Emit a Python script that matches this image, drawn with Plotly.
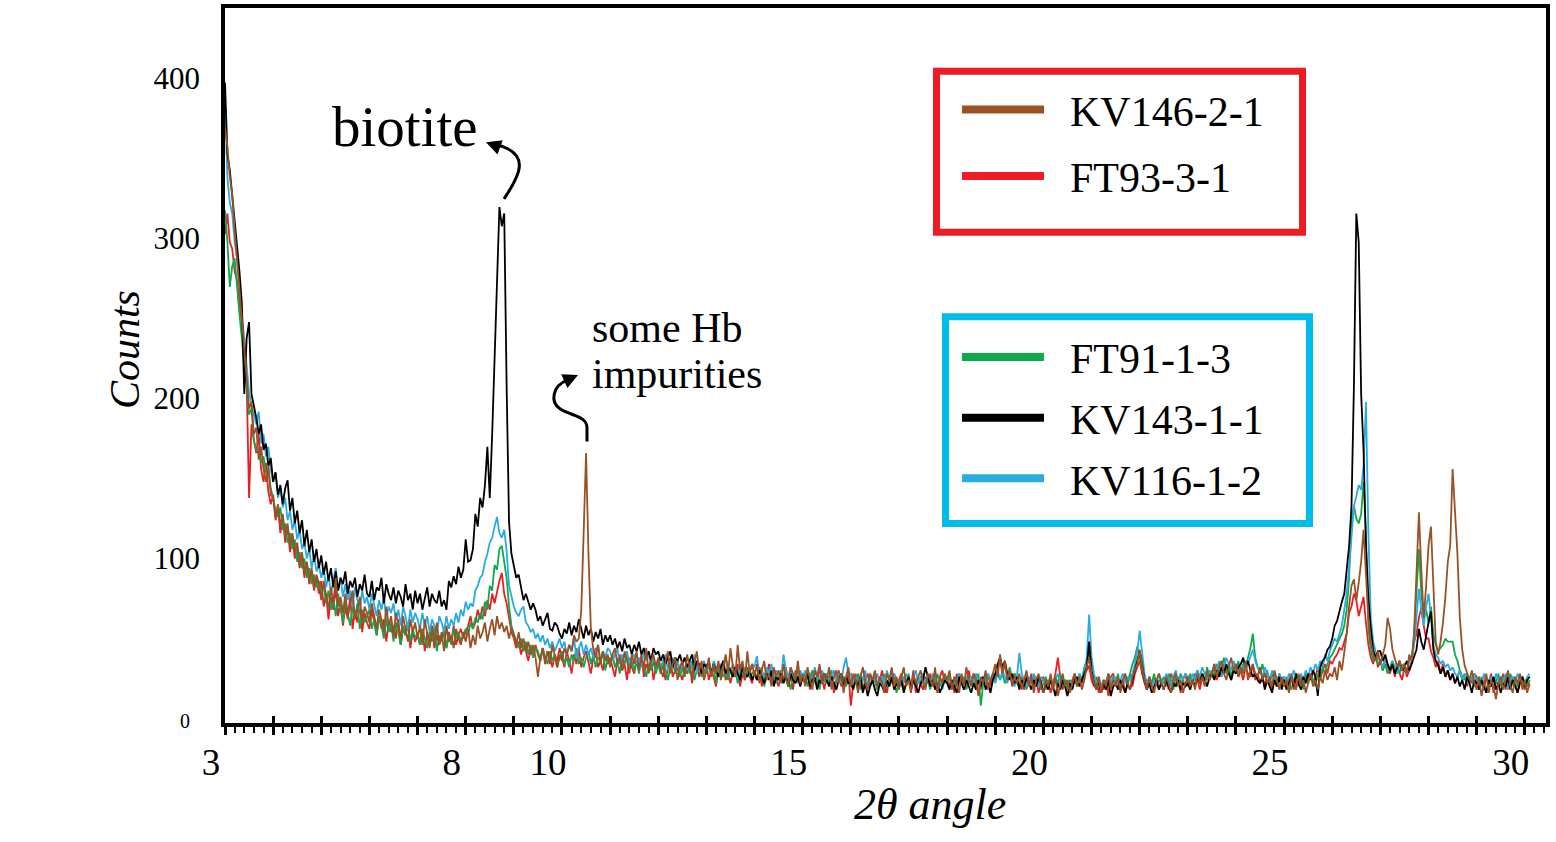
import plotly.graph_objects as go

# ---------------- data (2θ step 0.05° from 3.00° to 30.10°) ----------------
angle_start = 3.0
angle_step = 0.05

kv146_2_1 = [  # brown, one row = 0.5°
    372, 360, 341, 330, 308, 290, 268, 250, 236, 214,
    196, 200, 180, 184, 164, 172, 158, 150, 160, 142,
    140, 128, 136, 122, 130, 116, 124, 110, 118, 106,
    112, 98, 106, 94, 100, 88, 96, 84, 92, 86,
    76, 88, 80, 70, 84, 74, 90, 72, 78, 68,
    80, 66, 74, 82, 64, 70, 78, 62, 72, 68,
    62, 74, 66, 58, 70, 64, 56, 72, 60, 66,
    54, 68, 60, 52, 66, 58, 50, 64, 56, 62,
    52, 60, 48, 64, 54, 46, 58, 50, 62, 48,
    56, 44, 60, 50, 54, 46, 58, 52, 48, 56,
    50, 58, 46, 54, 48, 60, 52, 56, 62, 50,
    58, 64, 54, 66, 58, 62, 56, 60, 52, 58,
    54, 48, 56, 46, 52, 44, 50, 42, 48, 40,
    28, 40, 46, 38, 44, 36, 48, 40, 34, 42,
    38, 46, 42, 48, 44, 54, 50, 52, 70, 118,
    168, 105, 58, 45, 40, 48, 36, 44, 38, 42,
    34, 42, 46, 36, 40, 32, 44, 38, 30, 42,
    36, 44, 32, 40, 34, 46, 30, 38, 42, 34,
    40, 32, 28, 38, 44, 30, 36, 40, 26, 34,
    38, 30, 42, 34, 28, 36, 44, 32, 38, 26,
    32, 40, 28, 36, 30, 38, 26, 34, 42, 30,
    46, 34, 28, 48, 32, 38, 26, 44, 30, 36,
    28, 36, 24, 32, 38, 26, 30, 22, 34, 28,
    32, 24, 36, 28, 22, 34, 30, 26, 38, 24,
    30, 22, 34, 26, 20, 32, 28, 36, 24, 30,
    26, 34, 20, 28, 32, 24, 30, 18, 28, 34,
    22, 30, 26, 18, 28, 34, 24, 20, 30, 26,
    32, 22, 28, 24, 18, 30, 26, 34, 22, 28,
    20, 28, 34, 22, 26, 18, 30, 24, 28, 32,
    24, 20, 30, 26, 22, 34, 18, 28, 24, 30,
    26, 32, 20, 28, 24, 18, 30, 22, 34, 26,
    22, 30, 26, 16, 28, 24, 32, 20, 26, 30,
    36, 28, 42, 30, 38, 26, 32, 22, 28, 24,
    30, 20, 26, 32, 22, 28, 18, 26, 30, 22,
    18, 26, 22, 30, 20, 28, 16, 24, 30, 22,
    26, 18, 24, 30, 22, 28, 20, 26, 34, 40,
    30, 24, 20, 28, 18, 26, 22, 30, 20, 26,
    22, 28, 18, 26, 30, 24, 20, 28, 32, 36,
    45, 34, 26, 20, 28, 22, 18, 26, 30, 24,
    20, 28, 24, 18, 26, 30, 22, 26, 18, 24,
    28, 22, 26, 20, 30, 24, 28, 22, 32, 26,
    30, 36, 28, 34, 38, 30, 26, 34, 40, 32,
    36, 28, 34, 30, 38, 26, 32, 36, 30, 28,
    34, 26, 30, 24, 28, 22, 32, 26, 20, 28,
    22, 26, 18, 28, 24, 20, 30, 22, 26, 18,
    24, 30, 22, 26, 20, 28, 24, 32, 26, 30,
    28, 34, 26, 38, 32, 42, 55, 72, 85, 89,
    76, 87, 100, 120, 95, 65, 50, 42, 38, 44,
    36, 42, 48, 65, 58, 45, 40, 34, 38, 32,
    36, 30, 42, 38, 55, 90, 131, 95, 65, 85,
    110, 122, 80, 50, 42, 50, 62, 78, 100, 110,
    158, 135, 105, 65, 45, 35, 30, 26, 32, 24,
    20, 28, 16, 24, 30, 18, 26, 22, 14, 24,
    28, 20, 26, 32, 22, 18, 28, 24, 30, 20,
    26, 18, 24,
]

ft93_3_1 = [  # red
    305, 318, 300, 296, 282, 276, 262, 250, 228, 212,
    140, 186, 176, 168, 180, 158, 150, 162, 144, 136,
    142, 126, 134, 118, 128, 112, 122, 106, 116, 102,
    110, 96, 104, 90, 100, 86, 94, 82, 90, 80,
    88, 72, 80, 64, 78, 70, 84, 66, 74, 60,
    72, 64, 78, 58, 70, 62, 74, 56, 68, 62,
    58, 70, 62, 54, 66, 58, 64, 50, 62, 56,
    60, 52, 64, 48, 58, 54, 62, 46, 56, 50,
    54, 48, 58, 44, 56, 50, 60, 46, 54, 48,
    52, 58, 46, 56, 50, 60, 48, 54, 58, 52,
    56, 60, 66, 58, 62, 70, 64, 72, 66, 76,
    70, 80, 74, 82, 88, 93, 80, 74, 64, 56,
    52, 46, 50, 42, 48, 44, 38, 46, 40, 48,
    42, 38, 46, 36, 44, 40, 34, 42, 38, 46,
    40, 34, 44, 38, 30, 42, 36, 46, 34, 40,
    44, 36, 30, 40, 46, 34, 38, 32, 42, 36,
    40, 34, 28, 38, 42, 32, 36, 26, 40, 34,
    30, 38, 34, 42, 28, 36, 32, 40, 26, 34,
    38, 30, 36, 26, 34, 40, 28, 32, 38, 30,
    26, 34, 30, 38, 24, 32, 36, 28, 34, 30,
    36, 26, 32, 28, 22, 34, 30, 38, 26, 30,
    24, 32, 28, 36, 22, 30, 26, 34, 28, 24,
    32, 26, 34, 22, 30, 28, 36, 24, 30, 26,
    22, 30, 26, 34, 24, 28, 20, 32, 26, 30,
    28, 24, 32, 20, 30, 26, 22, 34, 26, 20,
    30, 24, 28, 18, 26, 32, 22, 28, 24, 30,
    10, 24, 30, 22, 28, 20, 26, 30, 22, 26,
    28, 20, 26, 32, 22, 18, 28, 24, 30, 22,
    26, 30, 20, 24, 28, 22, 32, 18, 26, 24,
    20, 28, 24, 30, 22, 26, 18, 28, 32, 24,
    28, 22, 26, 18, 30, 24, 28, 20, 26, 32,
    24, 30, 22, 26, 20, 28, 24, 30, 22, 28,
    26, 34, 38, 30, 36, 28, 32, 24, 30, 26,
    22, 28, 20, 26, 24, 30, 22, 28, 18, 24,
    28, 22, 26, 18, 24, 30, 40, 28, 20, 26,
    24, 18, 26, 30, 22, 28, 24, 30, 32, 35,
    26, 22, 28, 18, 24, 20, 26, 16, 28, 30,
    22, 28, 20, 26, 18, 24, 30, 22, 30, 34,
    38, 30, 24, 20, 26, 22, 28, 24, 20, 26,
    24, 28, 20, 30, 26, 22, 28, 18, 26, 30,
    22, 28, 24, 30, 26, 20, 28, 24, 32, 26,
    30, 34, 26, 32, 28, 36, 30, 34, 26, 32,
    36, 28, 32, 26, 34, 30, 28, 36, 26, 30,
    24, 28, 22, 30, 26, 20, 28, 24, 30, 22,
    28, 22, 26, 30, 20, 26, 24, 28, 22, 30,
    26, 30, 24, 28, 34, 26, 32, 36, 30, 38,
    36, 40, 42, 46, 45, 50, 55, 68, 72, 80,
    76, 66, 72, 78, 62, 48, 40, 36, 42, 34,
    38, 32, 40, 34, 30, 36, 28, 34, 30, 26,
    34, 28, 32, 38, 50, 55, 65, 71, 60, 52,
    52, 44, 40, 34, 38, 30, 36, 28, 32, 26,
    30, 24, 28, 32, 26, 30, 22, 28, 24, 30,
    28, 22, 26, 20, 28, 24, 30, 18, 26, 22,
    24, 30, 20, 26, 22, 28, 24, 18, 26, 24,
    20, 26, 22,
]

ft91_1_3 = [  # green
    320, 300, 272, 285, 290, 270, 255, 240, 222, 210,
    192, 196, 176, 170, 168, 162, 166, 156, 158, 146,
    140, 132, 128, 134, 120, 124, 112, 118, 108, 114,
    100, 106, 96, 102, 90, 96, 86, 92, 84, 88,
    80, 86, 74, 82, 70, 78, 66, 80, 72, 62,
    76, 68, 60, 72, 64, 74, 58, 70, 62, 66,
    70, 58, 64, 54, 66, 60, 52, 64, 56, 62,
    50, 62, 56, 48, 60, 54, 62, 50, 58, 52,
    56, 48, 58, 52, 46, 56, 50, 60, 44, 54,
    50, 56, 46, 54, 48, 58, 52, 56, 50, 54,
    58, 54, 62, 58, 65, 62, 68, 64, 75, 70,
    85, 82, 98, 95, 108, 110, 100, 90, 72, 60,
    55, 50, 46, 52, 44, 50, 42, 48, 40, 46,
    44, 38, 46, 40, 36, 44, 38, 42, 34, 40,
    44, 36, 40, 34, 42, 38, 46, 36, 40, 34,
    40, 44, 36, 42, 34, 40, 38, 44, 32, 40,
    36, 42, 34, 38, 30, 40, 36, 42, 34, 38,
    32, 38, 30, 40, 34, 28, 36, 32, 38, 30,
    36, 30, 38, 32, 26, 34, 38, 30, 34, 28,
    34, 28, 36, 30, 38, 26, 32, 36, 28, 32,
    30, 36, 28, 34, 24, 32, 36, 28, 30, 26,
    34, 28, 32, 24, 30, 36, 26, 32, 28, 30,
    32, 26, 30, 34, 22, 28, 32, 26, 30, 24,
    28, 32, 24, 30, 26, 20, 30, 26, 32, 28,
    26, 30, 22, 28, 32, 24, 28, 20, 30, 26,
    24, 28, 32, 22, 26, 30, 24, 28, 22, 26,
    22, 28, 24, 30, 20, 26, 28, 22, 30, 24,
    26, 20, 28, 24, 30, 22, 26, 32, 24, 18,
    26, 22, 28, 24, 30, 20, 26, 22, 28, 24,
    30, 22, 26, 20, 28, 24, 30, 22, 26, 28,
    24, 28, 20, 26, 22, 30, 24, 28, 20, 26,
    28, 22, 26, 30, 10, 24, 28, 22, 26, 30,
    28, 32, 26, 30, 24, 28, 34, 26, 30, 24,
    22, 28, 26, 20, 26, 24, 28, 22, 26, 20,
    24, 28, 22, 26, 20, 28, 24, 30, 22, 26,
    20, 26, 24, 28, 22, 30, 26, 34, 38, 45,
    32, 26, 22, 28, 20, 26, 24, 30, 22, 28,
    24, 30, 20, 26, 28, 22, 30, 36, 40, 47,
    40, 32, 26, 22, 28, 24, 30, 22, 26, 24,
    28, 22, 30, 26, 20, 28, 24, 30, 26, 22,
    26, 30, 24, 28, 32, 26, 30, 24, 34, 28,
    32, 28, 36, 30, 34, 40, 30, 36, 28, 34,
    32, 38, 30, 36, 34, 40, 46, 55, 40, 34,
    30, 36, 28, 32, 24, 30, 26, 22, 30, 24,
    22, 28, 24, 20, 26, 30, 22, 26, 20, 28,
    24, 30, 26, 22, 30, 28, 34, 30, 36, 40,
    42, 45, 48, 52, 55, 60, 70, 90, 125, 135,
    127, 124, 130, 150, 118, 58, 45, 38, 42, 36,
    38, 32, 36, 30, 34, 38, 32, 36, 30, 35,
    36, 30, 40, 38, 55, 85, 108, 80, 65, 70,
    62, 72, 55, 48, 44, 46, 48, 52, 50, 50,
    50, 42, 38, 32, 28, 26, 30, 24, 28, 22,
    26, 20, 28, 24, 18, 26, 22, 28, 24, 30,
    22, 28, 26, 20, 30, 24, 28, 22, 26, 28,
    24, 22, 26,
]

kv116_1_2 = [  # blue
    390, 340, 325, 318, 300, 290, 272, 255, 236, 222,
    206, 198, 192, 186, 194, 174, 180, 166, 172, 158,
    150, 156, 140, 146, 134, 140, 126, 132, 120, 126,
    114, 120, 108, 112, 102, 108, 96, 104, 94, 98,
    90, 96, 84, 92, 80, 88, 96, 82, 90, 78,
    86, 76, 82, 72, 84, 76, 70, 82, 74, 78,
    70, 80, 72, 66, 76, 70, 78, 64, 72, 68,
    74, 64, 70, 60, 72, 66, 58, 70, 62, 68,
    64, 58, 68, 60, 66, 56, 64, 60, 54, 66,
    62, 56, 66, 58, 64, 60, 68, 62, 70, 66,
    75, 70, 74, 72, 82, 85, 90, 92, 100, 105,
    112, 115, 122, 128, 118, 115, 120, 107, 85, 78,
    72, 68, 66, 70, 72, 62, 60, 56, 58, 52,
    55, 50, 54, 48, 52, 46, 50, 44, 48, 52,
    46, 50, 42, 48, 44, 52, 40, 46, 50, 42,
    48, 42, 46, 40, 44, 48, 38, 44, 40, 46,
    44, 38, 42, 46, 36, 42, 40, 44, 36, 40,
    42, 36, 40, 34, 44, 38, 42, 36, 40, 34,
    40, 34, 38, 42, 32, 36, 40, 34, 38, 32,
    36, 40, 32, 38, 34, 42, 30, 36, 34, 38,
    32, 36, 30, 38, 34, 28, 36, 32, 40, 34,
    30, 36, 32, 28, 36, 30, 34, 28, 32, 36,
    34, 41, 28, 32, 26, 34, 30, 36, 28, 32,
    30, 26, 42, 32, 28, 34, 26, 30, 24, 32,
    28, 32, 26, 30, 24, 34, 28, 26, 32, 28,
    30, 24, 28, 32, 26, 30, 24, 34, 40, 30,
    30, 24, 28, 22, 30, 26, 32, 20, 28, 24,
    26, 30, 24, 28, 22, 32, 26, 24, 30, 26,
    22, 28, 24, 30, 26, 20, 28, 32, 24, 28,
    30, 24, 28, 22, 30, 26, 24, 28, 20, 26,
    26, 30, 22, 28, 24, 30, 26, 20, 28, 24,
    28, 24, 30, 26, 22, 28, 24, 30, 26, 28,
    24, 30, 26, 32, 28, 24, 30, 26, 22, 28,
    43, 30, 26, 22, 28, 24, 30, 26, 22, 28,
    26, 20, 24, 28, 22, 26, 30, 24, 28, 22,
    26, 20, 24, 28, 22, 30, 26, 32, 40, 67,
    40, 30, 24, 28, 22, 26, 24, 30, 24, 26,
    28, 22, 26, 30, 24, 28, 26, 30, 36, 44,
    57, 42, 30, 24, 28, 22, 26, 24, 30, 26,
    24, 30, 26, 22, 28, 32, 24, 28, 26, 30,
    28, 24, 30, 26, 32, 28, 34, 30, 26, 32,
    30, 36, 32, 38, 28, 34, 40, 36, 32, 38,
    34, 30, 36, 38, 32, 36, 40, 45, 38, 34,
    32, 28, 34, 30, 26, 32, 28, 24, 30, 26,
    28, 24, 30, 26, 32, 28, 24, 30, 26, 32,
    28, 34, 30, 36, 32, 38, 34, 42, 38, 44,
    48, 52, 50, 55, 60, 70, 80, 96, 118, 135,
    141, 148, 145, 160, 200, 119, 65, 50, 44, 40,
    38, 34, 40, 36, 32, 38, 34, 30, 36, 32,
    34, 30, 38, 40, 48, 65, 83, 70, 60, 72,
    80, 65, 48, 42, 40, 36, 38, 34, 36, 32,
    34, 30, 28, 32, 26, 30, 24, 28, 26, 30,
    24, 28, 22, 30, 26, 24, 28, 22, 30, 26,
    28, 24, 30, 20, 26, 28, 24, 30, 26, 28,
    24, 28, 30,
]

kv143_1_1 = [  # black
    400, 355, 345, 330, 312, 300, 282, 262, 205, 240,
    250, 205, 198, 190, 180, 186, 170, 174, 160, 165,
    150, 156, 142, 148, 136, 146, 151, 132, 140, 124,
    132, 118, 126, 110, 120, 106, 114, 100, 108, 96,
    104, 92, 100, 88, 96, 84, 94, 82, 90, 86,
    94, 80, 88, 84, 90, 78, 86, 82, 92, 80,
    78, 88, 76, 84, 82, 90, 74, 86, 80, 76,
    84, 74, 82, 78, 72, 86, 76, 80, 70, 82,
    74, 80, 70, 78, 84, 72, 80, 76, 74, 82,
    72, 76, 70, 88, 84, 91, 86, 97, 90, 95,
    114, 100, 101, 108, 130, 122, 140, 134, 148, 172,
    140, 180, 230, 275, 322, 310, 318, 210, 125, 105,
    97, 90, 92, 84, 76, 80, 75, 70, 74, 70,
    63, 66, 60, 64, 68, 58, 57, 62, 60, 55,
    52, 58, 55, 62, 54, 60, 56, 64, 58, 52,
    60, 54, 58, 50, 56, 52, 58, 48, 54, 50,
    54, 48, 52, 46, 50, 44, 52, 46, 48, 42,
    48, 44, 50, 42, 46, 40, 44, 38, 46, 42,
    44, 38, 42, 36, 40, 44, 34, 40, 38, 42,
    36, 40, 34, 38, 42, 32, 38, 36, 30, 36,
    34, 38, 30, 36, 32, 28, 34, 38, 30, 34,
    32, 28, 34, 30, 26, 34, 30, 28, 32, 26,
    30, 26, 32, 28, 24, 30, 26, 32, 22, 28,
    26, 30, 24, 28, 22, 30, 26, 24, 28, 22,
    28, 24, 30, 22, 26, 28, 20, 26, 24, 30,
    26, 22, 28, 24, 20, 26, 30, 22, 28, 24,
    24, 20, 26, 22, 28, 18, 24, 16, 22, 26,
    20, 16, 24, 22, 18, 26, 22, 28, 20, 24,
    22, 26, 18, 24, 28, 20, 26, 22, 18, 24,
    26, 34, 28, 22, 26, 20, 24, 18, 22, 26,
    24, 20, 26, 22, 18, 28, 24, 20, 26, 22,
    18, 24, 20, 26, 22, 28, 20, 24, 18, 26,
    30, 36, 40, 34, 38, 30, 26, 30, 24, 28,
    20, 26, 22, 28, 24, 20, 26, 22, 28, 24,
    18, 24, 20, 26, 22, 16, 24, 20, 26, 22,
    16, 24, 20, 26, 28, 22, 26, 30, 34, 50,
    32, 24, 20, 26, 18, 24, 20, 26, 16, 22,
    24, 20, 26, 22, 18, 24, 20, 26, 32, 38,
    44, 36, 26, 20, 24, 18, 22, 26, 20, 24,
    20, 26, 22, 18, 24, 22, 26, 20, 24, 22,
    24, 20, 26, 22, 28, 24, 30, 26, 22, 28,
    30, 26, 32, 28, 34, 30, 36, 30, 26, 32,
    30, 34, 36, 40, 34, 38, 32, 28, 30, 26,
    24, 28, 20, 26, 22, 18, 26, 22, 28, 20,
    26, 20, 24, 28, 22, 30, 24, 20, 28, 24,
    30, 26, 32, 28, 16, 34, 38, 40, 45, 47,
    52, 60, 63, 70, 75, 80, 93, 110, 135, 210,
    318, 300, 205, 170, 110, 78, 58, 45, 40, 44,
    44, 38, 42, 36, 32, 36, 30, 34, 38, 32,
    34, 38, 32, 36, 40, 45, 58, 50, 45, 55,
    62, 69, 45, 38, 35, 30, 34, 28, 32, 26,
    30, 24, 28, 22, 26, 20, 28, 24, 18, 26,
    24, 20, 26, 22, 18, 26, 22, 28, 20, 24,
    18, 24, 22, 28, 20, 26, 22, 18, 24, 28,
    22, 26, 28,
]

n_pts = len(kv146_2_1)
for arr in (ft93_3_1, ft91_1_3, kv116_1_2, kv143_1_1):
    assert len(arr) == n_pts, (len(arr), n_pts)
two_theta = [round(angle_start + angle_step * i, 3) for i in range(n_pts)]

x_tick_vals = list(range(3, 31))
x_tick_labeled = [3, 8, 10, 15, 20, 25, 30]
y_tick_vals = [0, 100, 200, 300, 400]

series = [  # (name, values, colour)
    ("FT93-3-1", ft93_3_1, "#EE1D23"),
    ("FT91-1-3", ft91_1_3, "#0DAA4B"),
    ("KV116-1-2", kv116_1_2, "#29ABE2"),
    ("KV143-1-1", kv143_1_1, "#000000"),
    ("KV146-2-1", kv146_2_1, "#9A5124"),
]
legend_order = {"legend": ["KV146-2-1", "FT93-3-1"],
                "legend2": ["FT91-1-3", "KV143-1-1", "KV116-1-2"]}

FONT = "Liberation Serif"

# ---------------- geometry helpers (plot area in pixels) ----------------
L, R, T, B = 225, 1546, 4, 723
W, H = 1556, 842


def px2x(px):
    return (px - L) / (R - L)


def py2y(py):
    return (B - py) / (B - T)


def P(px, py):
    return f"{px2x(px):.5f},{py2y(py):.5f}"


fig = go.Figure()

for name, vals, col in series:
    fig.add_trace(go.Scatter(x=two_theta, y=vals, mode="lines", name=name,
                             line=dict(color=col, width=1.8), showlegend=False,
                             hoverinfo="skip"))

colours = {s[0]: s[2] for s in series}
for lg, names in legend_order.items():
    for nm in names:
        fig.add_trace(go.Scatter(x=[None], y=[None], mode="lines",
                                 name="&nbsp;&nbsp;" + nm,
                                 line=dict(color=colours[nm], width=8),
                                 legend=lg, legendgroup=nm, showlegend=True))

# helper trace for the inward half of the major ticks
fig.add_trace(go.Scatter(x=[None], y=[None], xaxis="x2", showlegend=False,
                         hoverinfo="skip"))

x_tick_text = [str(v) if v in x_tick_labeled else "" for v in x_tick_vals]
y_tick_text = ["<span style='font-size:20px'>0&nbsp;&nbsp;</span>", "100", "200", "300", "400"]

fig.update_layout(
    width=W, height=H,
    margin=dict(l=L, r=W - R, t=T, b=H - B),
    paper_bgcolor="white", plot_bgcolor="white",
    font=dict(family=FONT, color="black"),
    xaxis=dict(range=[3, 30.44], showgrid=False, zeroline=False,
               showline=True, linewidth=3.5, linecolor="black", mirror=True,
               tickmode="array", tickvals=x_tick_vals, ticktext=x_tick_text,
               ticks="outside", ticklen=8, tickwidth=2.5, tickcolor="black",
               tickfont=dict(size=37, family=FONT), ticklabelshift=-14,
               ticklabelstandoff=-4,
               minor=dict(tickmode="linear", tick0=3, dtick=0.2, ticks="outside",
                          ticklen=6, tickwidth=2, tickcolor="black")),
    xaxis2=dict(overlaying="x", matches="x", anchor="y", side="bottom",
                showgrid=False, zeroline=False, showline=False,
                tickmode="array", tickvals=x_tick_vals, ticks="inside",
                ticklen=7, tickwidth=2.5, tickcolor="black", showticklabels=False),
    yaxis=dict(range=[-0.9, 446.6], showgrid=False, zeroline=False,
               showline=True, linewidth=3.5, linecolor="black", mirror=True,
               tickmode="array", tickvals=y_tick_vals, ticktext=y_tick_text,
               ticks="", tickfont=dict(size=31, family=FONT),
               ticklabelstandoff=15, ticklabelshift=-4),
    legend=dict(x=px2x(957), y=py2y(72), xanchor="left", yanchor="top",
                borderwidth=0, bgcolor="rgba(0,0,0,0)",
                font=dict(size=42, family=FONT), itemwidth=82,
                traceorder="grouped", tracegroupgap=9),
    legend2=dict(x=px2x(957), y=py2y(321), xanchor="left", yanchor="top",
                 borderwidth=0, bgcolor="rgba(0,0,0,0)",
                 font=dict(size=42, family=FONT), itemwidth=82,
                 traceorder="grouped", tracegroupgap=3),
)

# legend frames
fig.add_shape(type="rect", xref="paper", yref="paper",
              x0=px2x(936.5), x1=px2x(1302.5), y0=py2y(67.5), y1=py2y(229.5),
              line=dict(color="#ED1C24", width=7), fillcolor="rgba(0,0,0,0)")
fig.add_shape(type="rect", xref="paper", yref="paper",
              x0=px2x(945.5), x1=px2x(1309.5), y0=py2y(314.5), y1=py2y(522.5),
              line=dict(color="#00BCEB", width=7), fillcolor="rgba(0,0,0,0)")

# axis titles
fig.add_annotation(text="<i>Counts</i>", x=px2x(125), y=py2y(348), xref="paper",
                   yref="paper", showarrow=False, textangle=-90,
                   font=dict(size=42, family=FONT), xanchor="center", yanchor="middle")
fig.add_annotation(text="<i>2θ angle</i>", x=px2x(930), y=py2y(805), xref="paper",
                   yref="paper", showarrow=False, font=dict(size=44, family=FONT),
                   xanchor="center", yanchor="middle")

# labels
fig.add_annotation(text="biotite", x=px2x(405), y=py2y(123), xref="paper", yref="paper",
                   showarrow=False, font=dict(size=57, family=FONT),
                   xanchor="center", yanchor="middle")
fig.add_annotation(text="some Hb", x=px2x(590), y=py2y(326), xref="paper", yref="paper",
                   showarrow=False, font=dict(size=42, family=FONT),
                   xanchor="left", yanchor="middle")
fig.add_annotation(text="impurities", x=px2x(590), y=py2y(372), xref="paper", yref="paper",
                   showarrow=False, font=dict(size=42, family=FONT),
                   xanchor="left", yanchor="middle")

# curved arrows
fig.add_shape(type="path", xref="paper", yref="paper",
              path=f"M {P(504,196)} C {P(520,172)} {P(532,150)} {P(495,141)}",
              line=dict(color="black", width=3))
fig.add_annotation(x=px2x(486), y=py2y(139), xref="paper", yref="paper", text="",
                   showarrow=True, arrowhead=2, arrowsize=1, arrowwidth=3,
                   arrowcolor="black", ax=11, ay=4, standoff=0)
fig.add_shape(type="path", xref="paper", yref="paper",
              path=(f"M {P(587,440)} L {P(587,426)} C {P(587,414)} {P(570,414)} {P(560,407)}"
                    f" C {P(550,400)} {P(552,384)} {P(568,378)}"),
              line=dict(color="black", width=3))
fig.add_annotation(x=px2x(578), y=py2y(373), xref="paper", yref="paper", text="",
                   showarrow=True, arrowhead=2, arrowsize=1, arrowwidth=3,
                   arrowcolor="black", ax=-11, ay=5, standoff=0)

fig.write_html("out.html")
